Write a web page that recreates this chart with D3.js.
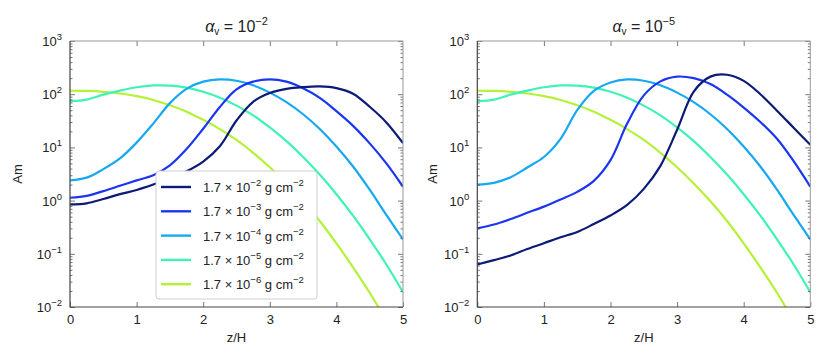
<!DOCTYPE html>
<html>
<head>
<meta charset="utf-8">
<script src="https://cdn.jsdelivr.net/npm/d3@7"></script>
<style>
body { margin: 0; background: #fff; }
text { font-family: "Liberation Sans", Arial, sans-serif; fill: #222; }
</style>
</head>
<body>
<svg id="main" width="830" height="363"></svg>
<script>
// z/H sample positions (read every 0.25)
var zH = [0, 0.25, 0.5, 0.75, 1, 1.25, 1.5, 1.75, 2, 2.25, 2.5, 2.75, 3, 3.25, 3.5, 3.75, 4, 4.25, 4.5, 4.75, 5];

// alpha_v = 1e-2 panel
var leftNavy = [0.85, 0.89, 1.07, 1.32, 1.58, 2.0, 2.63, 3.55, 5.4, 10.5, 32, 72, 105, 126, 136, 140, 130, 102, 58, 29.5, 12];
var leftBlue = [1.13, 1.23, 1.51, 1.9, 2.4, 3.0, 4.6, 9.3, 22.4, 57.5, 123, 172, 190, 172, 129, 85, 48, 25.4, 11.9, 5.0, 1.82];
var leftCyan = [2.4, 2.7, 3.9, 6.2, 12.3, 28, 68, 126, 172, 190, 179, 147, 107, 71, 42, 22.2, 10.4, 4.37, 1.60, 0.537, 0.186];
var leftAqua = [74, 79, 98, 117, 135, 146, 145, 133, 111, 86, 61, 40, 23.7, 13.1, 6.6, 3.08, 1.32, 0.52, 0.187, 0.063, 0.019];
var leftLime = [116, 115, 111, 103, 92, 78, 62, 47, 33, 22.1, 13.8, 7.9, 4.24, 2.10, 0.968, 0.413, 0.157, 0.0557, 0.0185, 0.00545, 0.00147];

// alpha_v = 1e-5 panel
var rightNavy = [0.063, 0.076, 0.093, 0.123, 0.158, 0.204, 0.257, 0.363, 0.525, 0.83, 1.66, 4.5, 21.4, 112, 214, 232, 178, 100, 49, 23.4, 11.2];
var rightBlue = [0.30, 0.355, 0.45, 0.59, 0.77, 1.05, 1.46, 2.35, 5.75, 28, 95, 174, 214, 200, 155, 98, 56, 30, 14.5, 5.5, 1.82];
var rightCyan = [2.0, 2.16, 2.75, 4.2, 6.6, 14.5, 50, 115, 166, 190, 179, 147, 107, 71, 42, 22.2, 10.4, 4.37, 1.60, 0.537, 0.186];
var rightAqua = [74, 79, 98, 117, 135, 146, 145, 133, 111, 86, 61, 40, 23.7, 13.1, 6.6, 3.08, 1.32, 0.52, 0.187, 0.063, 0.019];
var rightLime = [116, 115, 111, 103, 92, 78, 62, 47, 33, 22.1, 13.8, 7.9, 4.24, 2.10, 0.968, 0.413, 0.157, 0.0557, 0.0185, 0.00545, 0.00147];

var sigmaExps = ["\u22122", "\u22123", "\u22124", "\u22125", "\u22126"];
var colors = ["#0c1a78", "#1a36f2", "#16a8f0", "#3ef2b8", "#b4f23a"];
var xTicks = [0, 1, 2, 3, 4, 5];
var yExps = [-2, -1, 0, 1, 2, 3];
var titleExps = ["\u22122", "\u22125"];

var svg = d3.select("#main");
var top_ = 41, bottom = 307, pw = 333;

function drawPanel(idx, x0, series, ylabX)
{
    var x = d3.scaleLinear().domain([0, 5]).range([x0, x0 + pw]);
    var y = d3.scaleLog().domain([1e-2, 1e3]).range([bottom, top_]);
    var g = svg.append("g");

    var minor = [];
    yExps.forEach(function(e) {
        if (e < 3) for (var m = 2; m < 10; m++) minor.push(m * Math.pow(10, e));
    });
    var major = yExps.map(function(e) { return Math.pow(10, e); });

    // clip for curves
    g.append("clipPath").attr("id", "clip" + idx)
        .append("rect").attr("x", x0).attr("y", top_).attr("width", pw).attr("height", bottom - top_);

    var line = d3.line()
        .x(function(d, i) { return x(zH[i]); })
        .y(function(d) { return y(d); })
        .curve(d3.curveCatmullRom.alpha(0.5));

    // draw lightest first so the darker curves sit on top
    for (var s = series.length - 1; s >= 0; s--) {
        g.append("path")
            .attr("d", line(series[s]))
            .attr("fill", "none")
            .attr("stroke", colors[s])
            .attr("stroke-width", 2.2)
            .attr("clip-path", "url(#clip" + idx + ")");
    }

    // axes with inward ticks
    var axB = g.append("g").attr("transform", "translate(0," + bottom + ")")
        .call(d3.axisBottom(x).tickValues(xTicks).tickSize(-5).tickPadding(8).tickFormat(d3.format("d")));
    g.append("g").attr("transform", "translate(0," + top_ + ")")
        .call(d3.axisTop(x).tickValues([1, 2, 3, 4]).tickSize(-5).tickFormat(""));
    g.append("g").attr("transform", "translate(" + x0 + ",0)")
        .call(d3.axisLeft(y).tickValues(major).tickSize(-5).tickFormat(""));
    g.append("g").attr("transform", "translate(" + x0 + ",0)")
        .call(d3.axisLeft(y).tickValues(minor).tickSize(-2.5).tickFormat(""));
    g.append("g").attr("transform", "translate(" + (x0 + pw) + ",0)")
        .call(d3.axisRight(y).tickValues(major).tickSize(-5).tickFormat(""));
    g.append("g").attr("transform", "translate(" + (x0 + pw) + ",0)")
        .call(d3.axisRight(y).tickValues(minor).tickSize(-2.5).tickFormat(""));
    g.selectAll(".domain").remove();
    g.selectAll(".tick line").attr("stroke", "#555").attr("stroke-width", 0.8);
    axB.selectAll(".tick text").attr("font-size", 13).attr("fill", "#222")
        .attr("font-family", "Liberation Sans, Arial, sans-serif");

    // frame
    g.append("path")
        .attr("d", "M" + x0 + "," + top_ + "H" + (x0 + pw) + "V" + bottom)
        .attr("fill", "none").attr("stroke", "#999").attr("stroke-width", 1);
    g.append("path")
        .attr("d", "M" + x0 + "," + top_ + "V" + bottom + "H" + (x0 + pw))
        .attr("fill", "none").attr("stroke", "#444").attr("stroke-width", 1.2);

    // y tick labels 10^e
    yExps.forEach(function(e) {
        var t = g.append("text")
            .attr("x", x0 - 8)
            .attr("y", y(Math.pow(10, e)) + 5)
            .attr("text-anchor", "end")
            .attr("font-size", 13);
        t.append("tspan").text("10");
        t.append("tspan").attr("dy", -6).attr("font-size", 9.5)
            .text(e < 0 ? "\u2212" + (-e) : String(e));
    });

    // titles
    g.append("text")
        .attr("x", x0 + pw / 2)
        .attr("y", 342)
        .attr("text-anchor", "middle")
        .attr("font-size", 13)
        .text("z/H");
    g.append("text")
        .attr("transform", "translate(" + ylabX + "," + ((top_ + bottom) / 2) + ") rotate(-90)")
        .attr("text-anchor", "middle")
        .attr("font-size", 13)
        .text("Am");

    var tt = g.append("text")
        .attr("x", x0 + pw / 2)
        .attr("y", 32)
        .attr("text-anchor", "middle")
        .attr("font-size", 16);
    tt.append("tspan").attr("font-style", "italic").text("\u03b1");
    tt.append("tspan").attr("font-size", 10).attr("dy", 3).text("v");
    tt.append("tspan").attr("dy", -3).text(" = 10");
    tt.append("tspan").attr("font-size", 11).attr("dy", -7).text(titleExps[idx]);
}

drawPanel(0, 70, [leftNavy, leftBlue, leftCyan, leftAqua, leftLime], 22);
drawPanel(1, 477.3, [rightNavy, rightBlue, rightCyan, rightAqua, rightLime], 437);

// legend (left panel)
var lg = svg.append("g");
lg.append("rect")
    .attr("x", 156).attr("y", 171).attr("width", 161).attr("height", 128)
    .attr("rx", 3).attr("fill", "#fff").attr("stroke", "#cfcfcf").attr("stroke-width", 1);
sigmaExps.forEach(function(e, i) {
    var yy = 187 + i * 24.3;
    lg.append("line").attr("x1", 161).attr("x2", 191).attr("y1", yy).attr("y2", yy)
        .attr("stroke", colors[i]).attr("stroke-width", 2.4);
    var t = lg.append("text").attr("x", 203).attr("y", yy + 5).attr("font-size", 13);
    t.append("tspan").text("1.7 \u00d7 10");
    t.append("tspan").attr("dy", -6).attr("font-size", 9.5).text(e);
    t.append("tspan").attr("dy", 6).text(" g cm");
    t.append("tspan").attr("dy", -6).attr("font-size", 9.5).text("\u22122");
});
</script>
</body>
</html>
